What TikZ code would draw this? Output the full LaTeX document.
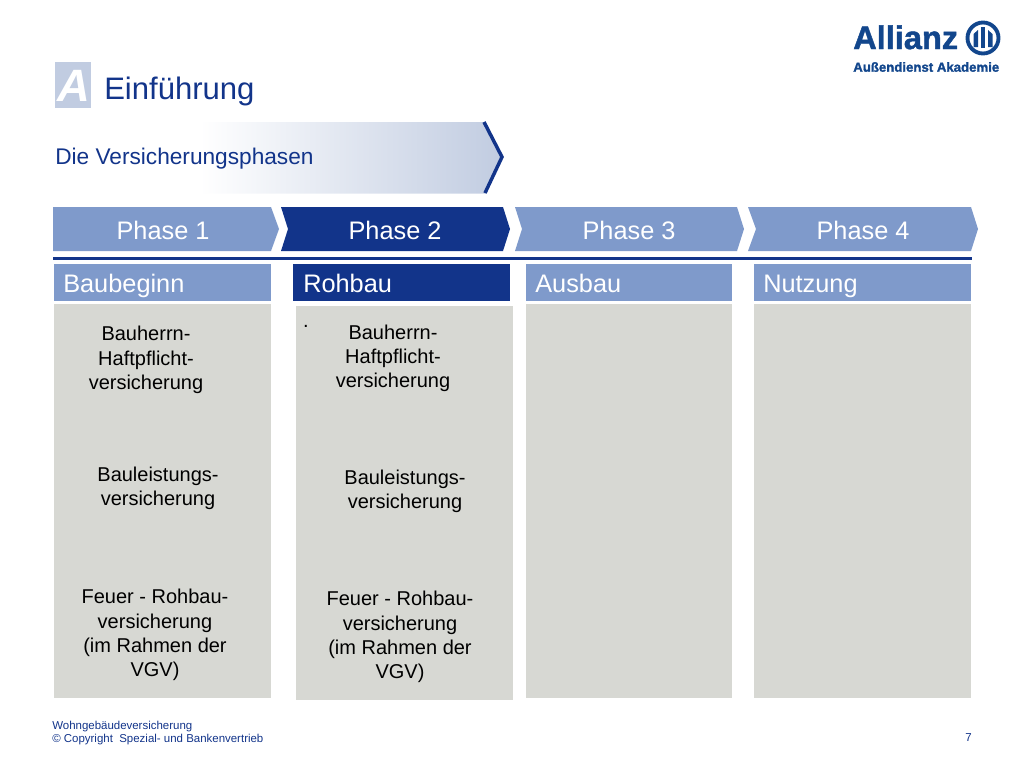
\documentclass[tikz,border=0pt]{standalone}
\usepackage{fontspec}
\setmainfont{Liberation Sans}
\newfontfamily\logofont[BoldFeatures={FakeBold=1.5}]{Liberation Sans}
\definecolor{phaselight}{HTML}{7F9ACB}
\definecolor{phasedark}{HTML}{12348A}
\definecolor{bodygray}{HTML}{D7D8D3}
\definecolor{bannerblue}{HTML}{C1CCE1}
\definecolor{logoblue}{HTML}{12468C}
\tikzset{
	phasetext/.style = {text = white, font = \fontsize{19}{23}\selectfont},
	headtext/.style = {text = white, font = \fontsize{19}{23}\selectfont, anchor = base west, inner sep = 0pt},
	bodytext/.style = {text = black, align = center, font = \fontsize{15}{18.2}\selectfont},
	foottext/.style = {text = phasedark, align = left, anchor = west, inner sep = 0pt, font = \fontsize{8.6}{10}\selectfont}
}
\begin{document}
\begin{tikzpicture}[x = 0.75pt, y = -0.75pt]
	\useasboundingbox (0,0) rectangle (1024,768);
	% title
	\fill[bannerblue] (55,62) rectangle (91,108);
	\node[text = white, font = \fontsize{34}{34}\bfseries\itshape\selectfont](LETTER) at (74,86){A};
	\node[anchor = base west, inner sep = 0pt, text = phasedark, font = \fontsize{23.3}{28}\selectfont](TITLE) at (104,99){Einführung};
	\shade[left color = white, right color = bannerblue] (200,122) -- (486,122) -- (502,157) -- (486,193.5) -- (200,193.5) -- cycle;
	\draw[color = phasedark, line width = 2.6pt] (484,122) -- (502,157) -- (485,193);
	\node[anchor = base west, inner sep = 0pt, text = phasedark, font = \fontsize{17}{20}\selectfont](SUB) at (55,164){Die Versicherungsphasen};
	% phases
	\fill[phaselight] (53,207) -- (271,207) -- (279,229) -- (271,251) -- (53,251) -- cycle;
	\fill[phasedark] (281,207) -- (503,207) -- (510,229) -- (503,251) -- (281,251) -- (288,229) -- cycle;
	\fill[phaselight] (515,207) -- (737,207) -- (744,229) -- (737,251) -- (515,251) -- (522,229) -- cycle;
	\fill[phaselight] (748,207) -- (971,207) -- (978,229) -- (971,251) -- (748,251) -- (756,229) -- cycle;
	\node[phasetext](P1) at (163,230){Phase 1};
	\node[phasetext](P2) at (395,230){Phase 2};
	\node[phasetext](P3) at (629,230){Phase 3};
	\node[phasetext](P4) at (863,230){Phase 4};
	\draw[color = phasedark, line width = 1.8pt] (53,258.5) -- (972,258.5);
	% headers
	\fill[phaselight] (54,264) rectangle (271,301);
	\fill[phasedark] (293,264) rectangle (510,301);
	\fill[phaselight] (526,264) rectangle (732,301);
	\fill[phaselight] (754,264) rectangle (971,301);
	\node[headtext](H1) at (63,292){Baubeginn};
	\node[headtext](H2) at (303,292){Rohbau};
	\node[headtext](H3) at (535,292){Ausbau};
	\node[headtext](H4) at (763,292){Nutzung};
	% columns
	\fill[bodygray] (54,304) rectangle (271,698);
	\fill[bodygray] (296,306) rectangle (513,700);
	\fill[bodygray] (526,304) rectangle (732,698);
	\fill[bodygray] (754,304) rectangle (971,698);
	\node[bodytext](A1) at (146,360){Bauherrn-\\Haftpflicht-\\versicherung};
	\node[bodytext](A2) at (158,488.5){Bauleistungs-\\versicherung};
	\node[bodytext](A3) at (155,635){Feuer - Rohbau-\\versicherung\\(im Rahmen der\\VGV)};
	\node[bodytext](DOT) at (306,326){.};
	\node[bodytext](B1) at (393,358.5){Bauherrn-\\Haftpflicht-\\versicherung};
	\node[bodytext](B2) at (405,491.5){Bauleistungs-\\versicherung};
	\node[bodytext](B3) at (400,637){Feuer - Rohbau-\\versicherung\\(im Rahmen der\\VGV)};
	% logo
	\node[anchor = base west, inner sep = 0pt, text = logoblue, font = \logofont\fontsize{24.4}{24}\bfseries\selectfont](LOGO) at (853,49){Allianz};
	\node[anchor = west, inner sep = 0pt, text = logoblue, font = \logofont\fontsize{9.9}{12}\bfseries\selectfont](ACAD) at (853,67){Außendienst Akademie};
	\draw[color = logoblue, line width = 2.9pt] (983,38) circle (15.5);
	\fill[logoblue] (973.5,34) -- (978,30) -- (978,47) -- (973.5,47) -- cycle;
	\fill[logoblue] (980.7,27) -- (985.3,27) -- (985.3,48) -- (980.7,48) -- cycle;
	\fill[logoblue] (988,30) -- (992.5,34) -- (992.5,47) -- (988,47) -- cycle;
	% footer
	\node[foottext](FOOT) at (52,733){Wohngebäudeversicherung\\© Copyright\ \ Spezial- und Bankenvertrieb};
	\node[foottext, anchor = east](PAGE) at (972,738){7};
\end{tikzpicture}
\end{document}
